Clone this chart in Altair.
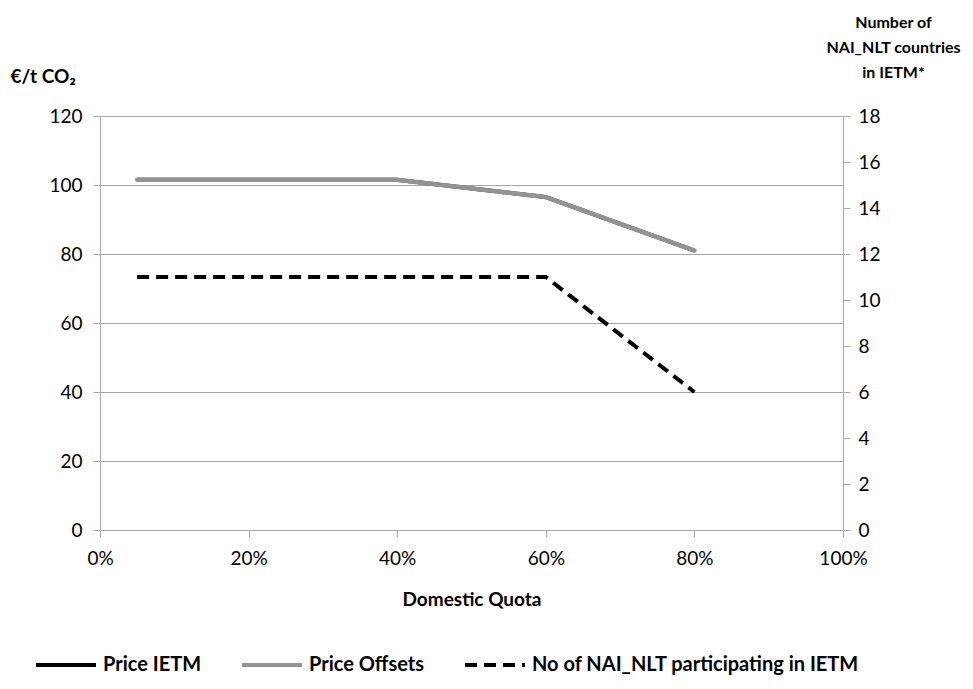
import altair as alt
import pandas as pd

quota = [0.05, 0.20, 0.40, 0.60, 0.80]
price_ietm = [101.5, 101.5, 101.5, 96.5, 81.0]
price_offsets = [101.5, 101.5, 101.5, 96.5, 81.0]
n_countries = [11, 11, 11, 11, 6]

series_names = ["Price IETM", "Price Offsets", "No of NAI_NLT participating  in IETM"]
series_colors = ["#000000", "#939393", "#000000"]
series_dash = [[1, 0], [1, 0], [12, 7]]

rows = []
for q, a, b, c in zip(quota, price_ietm, price_offsets, n_countries):
    rows.append({"quota": q, "value": a, "series": series_names[0]})
    rows.append({"quota": q, "value": b, "series": series_names[1]})
    rows.append({"quota": q, "value": c, "series": series_names[2]})
df = pd.DataFrame(rows)

FONT = "Lato"
GRAY = "#a6a6a6"

color = alt.Color("series:N", scale=alt.Scale(domain=series_names, range=series_colors),
                  legend=alt.Legend(title=None, orient="none", direction="horizontal",
                                    legendX=-66, legendY=517, symbolType="stroke",
                                    symbolSize=3600, symbolStrokeWidth=4,
                                    labelFontSize=20, labelFontWeight="bold", labelFont=FONT,
                                    labelColor="#000000", columnPadding=32, labelOffset=5,
                                    labelLimit=500))
dash = alt.StrokeDash("series:N", scale=alt.Scale(domain=series_names, range=series_dash),
                      legend=None)

xenc = alt.X("quota:Q", scale=alt.Scale(domain=[0, 1], nice=False),
             axis=alt.Axis(format="%", values=[0, 0.2, 0.4, 0.6, 0.8, 1.0], grid=False,
                           labelFlush=False,
                           title="Domestic Quota", titleFontWeight="bold", titleFontSize=19,
                           titleFont=FONT, titlePadding=22, labelFontSize=19, labelFont=FONT,
                           labelPadding=12, tickSize=7, domainColor=GRAY, tickColor=GRAY,
                           labelColor="#000000", titleColor="#000000"))

left_y = alt.Y("value:Q", scale=alt.Scale(domain=[0, 120], nice=False),
               axis=alt.Axis(values=[0, 20, 40, 60, 80, 100, 120], grid=True, gridColor=GRAY,
                             domainColor=GRAY, tickColor=GRAY, tickSize=7, labelPadding=11,
                             labelFontSize=19, labelFont=FONT, labelColor="#000000",
                             title="€/t CO₂", titleAngle=0, titleAlign="left",
                             titleBaseline="middle", titleX=-90, titleY=-40,
                             titleFontSize=19, titleFontWeight="bold", titleFont=FONT,
                             titleColor="#000000"))

right_y = alt.Y("value:Q", scale=alt.Scale(domain=[0, 18], nice=False),
                axis=alt.Axis(orient="right", values=list(range(0, 19, 2)), grid=False,
                              domainColor=GRAY, tickColor=GRAY, tickSize=7, labelPadding=8,
                              labelFontSize=19, labelFont=FONT, labelColor="#000000",
                              title=["Number of", "NAI_NLT countries", "in IETM*"],
                              titleAngle=0, titleAlign="center", titleBaseline="top",
                              titleX=50, titleY=-102, titleLineHeight=25,
                              titleFontSize=16, titleFontWeight="bold", titleFont=FONT,
                              titleColor="#000000"))

base = alt.Chart(df)

black = base.transform_filter(alt.datum.series == series_names[0]).mark_line(
    strokeWidth=4).encode(x=xenc, y=left_y, color=color, strokeDash=dash)
grayl = base.transform_filter(alt.datum.series == series_names[1]).mark_line(
    strokeWidth=4.5, strokeCap="round").encode(x=xenc, y=left_y, color=color, strokeDash=dash)
dashed = base.transform_filter(alt.datum.series == series_names[2]).mark_line(
    strokeWidth=4).encode(x=xenc, y=right_y, color=color, strokeDash=dash)

left = alt.layer(black, grayl)
chart = alt.layer(left, dashed).resolve_scale(y="independent").properties(
    width=743, height=414,
    autosize=alt.AutoSizeParams(type="none"),
    padding={"left": 92, "top": 108, "right": 122, "bottom": 151},
).configure_view(stroke=None).configure(font=FONT)

chart.save("out.html", embed_options={"renderer": "svg", "actions": False})
